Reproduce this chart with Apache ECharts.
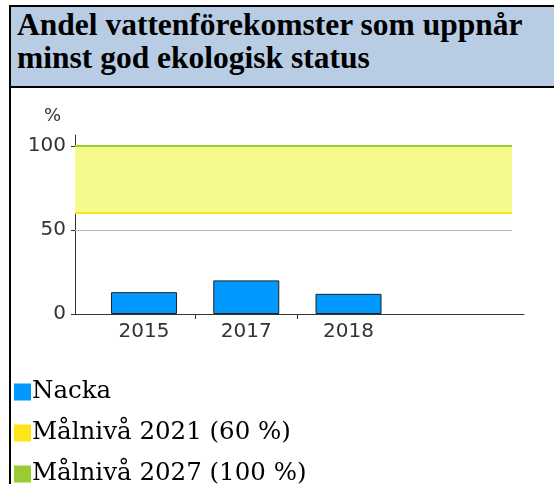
<!DOCTYPE html>
<html>
<head>
<meta charset="utf-8">
<script src="https://cdn.jsdelivr.net/npm/echarts@6/dist/echarts.min.js"></script>
<style>
  html, body { margin:0; padding:0; width:554px; height:484px; background:#fff; overflow:hidden; }
  #topline { position:absolute; left:9px; top:5px; width:545px; height:2px; background:#000; }
  #leftline { position:absolute; left:9px; top:5px; width:2px; height:479px; background:#000; }
  #header { position:absolute; left:11px; top:7px; width:543px; height:79px; background:#b8cce4; }
  #headline { position:absolute; left:9px; top:86px; width:545px; height:2px; background:#000; }
  #title { position:absolute; left:17px; top:8px; width:537px; font-family:"Liberation Serif", serif; font-weight:bold; font-size:31.5px; line-height:33px; color:#000; white-space:nowrap; }
  #chart { position:absolute; left:0; top:0; width:554px; height:484px; }
</style>
</head>
<body>
<div id="topline"></div>
<div id="header"></div>
<div id="headline"></div>
<div id="leftline"></div>
<div id="title">Andel vattenförekomster som uppnår<br>minst god ekologisk status</div>
<div id="chart"></div>
<script>
const categories = ['2015', '2017', '2018'];
const nackaValues = [13, 20, 12];
const targetNames = ['Målnivå 2021 (60 %)', 'Målnivå 2027 (100 %)'];
const targetValues = [60, 100];
const yTickValues = [0, 50, 100];
const gridLineValue = 50;

const chart = echarts.init(document.getElementById('chart'), null, { renderer: 'canvas' });

const axisFont = { fontFamily: 'DejaVu Sans', fontSize: 20, color: '#333' };
const yMax = 106.5;
const xMin = -0.675, xMax = 3.716, xMax2 = 3.6;

chart.setOption({
  animation: false,
  legend: {
    orient: 'vertical',
    left: 14,
    top: 379.5,
    height: 200,
    padding: 0,
    itemWidth: 17,
    itemHeight: 17,
    itemGap: 16,
    icon: 'rect',
    selectedMode: false,
    itemStyle: { borderWidth: 0 },
    textStyle: { fontFamily: 'DejaVu Serif', fontSize: 24.5, color: '#000', lineHeight: 17, padding: [0, 0, 0, -4] },
    data: ['Nacka', targetNames[0], targetNames[1]]
  },
  grid: [
    { left: 75, top: 135, width: 449, height: 179, containLabel: false },
    { left: 75, top: 135, width: 437, height: 179, containLabel: false }
  ],
  xAxis: [
    {
      type: 'value', gridIndex: 0, min: xMin, max: xMax,
      axisLine: { show: true, onZero: false, lineStyle: { color: '#333', width: 1 } },
      axisTick: { show: true, customValues: [0.5, 1.5], length: 5, lineStyle: { color: '#333' } },
      axisLabel: { show: true, customValues: [0, 1, 2], formatter: v => categories[Math.round(v)], margin: 8, ...axisFont },
      splitLine: { show: false }
    },
    { type: 'value', gridIndex: 1, min: xMin, max: xMax2, show: false }
  ],
  yAxis: [
    {
      type: 'value', gridIndex: 0, min: 0, max: yMax,
      name: '%', nameLocation: 'end', nameGap: 10,
      nameTextStyle: { fontFamily: 'DejaVu Sans', fontSize: 18, color: '#333', align: 'right', padding: [0, 14, 0, 0] },
      axisLine: { show: true, onZero: false, lineStyle: { color: '#333', width: 1 } },
      axisTick: { show: true, customValues: yTickValues, length: 4, lineStyle: { color: '#333' } },
      axisLabel: { show: true, customValues: yTickValues, margin: 9, ...axisFont },
      splitLine: { show: false }
    },
    { type: 'value', gridIndex: 1, min: 0, max: yMax, show: false }
  ],
  series: [
    {
      name: 'Nacka', type: 'bar', xAxisIndex: 0, yAxisIndex: 0,
      barWidth: 66, z: 5,
      itemStyle: { color: '#0099ff', borderColor: '#222', borderWidth: 1 },
      data: nackaValues.map((v, i) => [i, v])
    },
    {
      name: targetNames[0], type: 'line', xAxisIndex: 1, yAxisIndex: 1, data: [],
      itemStyle: { color: '#ffe41a' }, lineStyle: { color: '#ffe41a' },
      markArea: {
        silent: true,
        itemStyle: { color: '#f4fb8c' },
        data: [[{ yAxis: targetValues[0] }, { yAxis: targetValues[1] }]]
      },
      markLine: {
        silent: true, symbol: 'none', label: { show: false },
        data: [
          { yAxis: gridLineValue, lineStyle: { color: '#bbbbbb', width: 1, type: 'solid' } },
          { yAxis: targetValues[0], lineStyle: { color: '#ffe41a', width: 2, type: 'solid' } }
        ]
      }
    },
    {
      name: targetNames[1], type: 'line', xAxisIndex: 1, yAxisIndex: 1, data: [],
      itemStyle: { color: '#99cc33' }, lineStyle: { color: '#99cc33' },
      markLine: {
        silent: true, symbol: 'none', label: { show: false },
        data: [{ yAxis: targetValues[1], lineStyle: { color: '#99cc33', width: 2, type: 'solid' } }]
      }
    }
  ]
});
</script>
</body>
</html>
